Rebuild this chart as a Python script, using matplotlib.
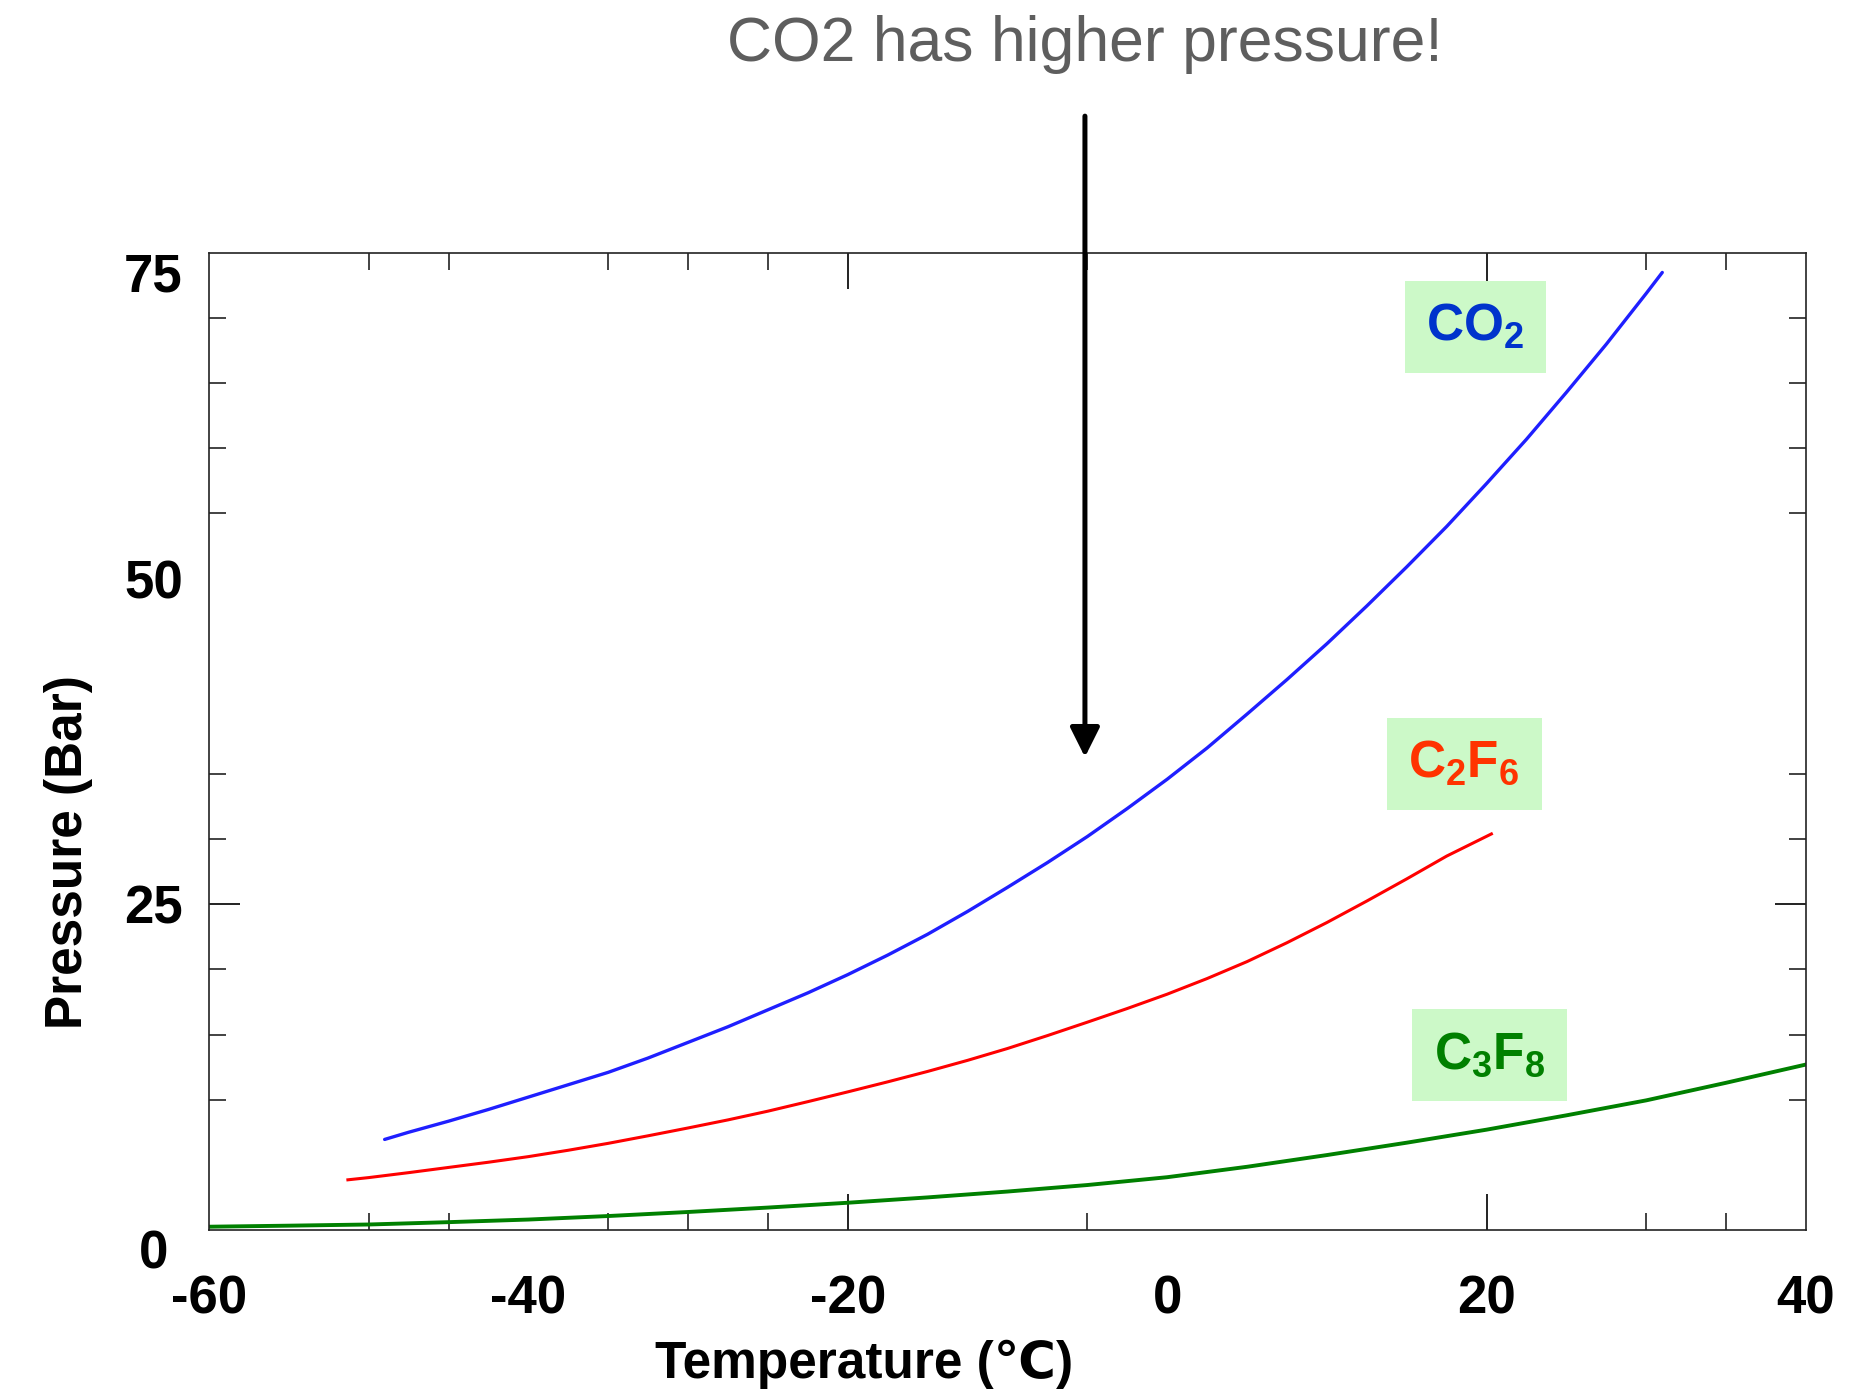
import matplotlib
matplotlib.use("Agg")
import matplotlib.pyplot as plt
from matplotlib.ticker import FixedLocator

# ---- data ----
co2_T = [-49, -47.5, -45, -42.5, -40, -37.5, -35, -32.5, -30, -27.5, -25, -22.5, -20, -17.5,
         -15, -12.5, -10, -7.5, -5, -2.5, 0, 2.5, 5, 7.5, 10, 12.5, 15, 17.5, 20, 22.5, 25,
         27.5, 30, 31]
co2_P = [6.95, 7.5, 8.35, 9.25, 10.2, 11.15, 12.1, 13.2, 14.4, 15.6, 16.9, 18.2, 19.6, 21.1,
         22.7, 24.45, 26.3, 28.2, 30.2, 32.35, 34.6, 37.0, 39.6, 42.25, 45.0, 47.9, 50.9, 54.0,
         57.3, 60.7, 64.3, 68.0, 71.9, 73.5]

c2f6_T = [-51.3, -50, -47.5, -45, -42.5, -40, -37.5, -35, -32.5, -30, -27.5, -25, -22.5, -20,
          -17.5, -15, -12.5, -10, -7.5, -5, -2.5, 0, 2.5, 5, 7.5, 10, 12.5, 15, 17.5, 20.3]
c2f6_P = [3.85, 4.02, 4.4, 4.8, 5.2, 5.63, 6.12, 6.65, 7.23, 7.83, 8.45, 9.12, 9.85, 10.6,
          11.37, 12.17, 13.02, 13.93, 14.92, 15.95, 17.0, 18.1, 19.3, 20.6, 22.05, 23.6, 25.25,
          26.95, 28.7, 30.4]

c3f8_T = [-60, -55, -50, -45, -40, -35, -30, -25, -20, -15, -10, -5, 0, 5, 10, 15, 20, 25,
          30, 35, 40]
c3f8_P = [0.25, 0.33, 0.42, 0.6, 0.8, 1.07, 1.38, 1.72, 2.09, 2.5, 2.95, 3.45, 4.05, 4.85,
          5.75, 6.7, 7.7, 8.8, 9.95, 11.3, 12.7]

x_ticks = [-60, -40, -20, 0, 20, 40]
y_ticks = [0, 25, 50, 75]
x_minor = [-50, -45, -35, -30, -25, -5, 30, 35]
x_long = [-20, 20]
y_minor = [10, 15, 20, 30, 35, 55, 60, 65, 70]
y_long = [25]

title = "CO2 has higher pressure!"
xlabel = "Temperature (\u2103)"
ylabel = "Pressure (Bar)"

FAM = ["Liberation Sans", "DejaVu Sans"]
plt.rcParams["font.family"] = FAM
plt.rcParams["mathtext.fontset"] = "custom"
plt.rcParams["mathtext.bf"] = "Liberation Sans:bold"
plt.rcParams["mathtext.rm"] = "Liberation Sans"

fig = plt.figure(figsize=(18.69, 13.95), dpi=100)
ax = fig.add_axes([0.1118, 0.1183, 0.8545, 0.7004])
ax.set_xlim(-60, 40)
ax.set_ylim(0, 75)

ax.plot(co2_T, co2_P, color="#1f1fff", lw=2.4, solid_capstyle="round")
ax.plot(c2f6_T, c2f6_P, color="#ff0000", lw=2.2)
ax.plot(c3f8_T, c3f8_P, color="#008000", lw=2.8)

for s in ax.spines.values():
    s.set_linewidth(1.2)
    s.set_color("#222222")

# labels (major, no mark)
ax.set_xticks(x_ticks)
ax.set_yticks(y_ticks)
ax.set_xticklabels([str(v) for v in x_ticks])
ax.set_yticklabels([str(v) for v in y_ticks])
ax.tick_params(axis="x", which="major", length=0, pad=32, labelsize=38)
ax.tick_params(axis="y", which="major", length=0, pad=40, labelsize=38)
for lab in ax.get_xticklabels() + ax.get_yticklabels():
    lab.set_fontweight("bold")
for lab in ax.get_yticklabels():
    lab.set_horizontalalignment("center")
yt = ax.yaxis.get_major_ticks()
yt[0].label1.set_verticalalignment("top")
yt[-1].label1.set_verticalalignment("top")

# short tick marks
ax.xaxis.set_minor_locator(FixedLocator(x_minor))
ax.yaxis.set_minor_locator(FixedLocator(y_minor))
ax.tick_params(which="minor", direction="in", length=12, width=1.2, color="#222222",
               top=True, bottom=True, left=True, right=True)

# long tick marks via secondary axes
for loc in ("bottom", "top"):
    sec = ax.secondary_xaxis(loc)
    sec.set_xticks(x_long)
    sec.set_xticklabels([])
    sec.tick_params(direction="in", length=26, width=1.4, color="#222222")
    sec.spines[loc].set_visible(False)
for loc in ("left", "right"):
    sec = ax.secondary_yaxis(loc)
    sec.set_yticks(y_long)
    sec.set_yticklabels([])
    sec.tick_params(direction="in", length=22, width=1.4, color="#222222")
    sec.spines[loc].set_visible(False)

ax.set_xlabel(xlabel, fontsize=37, fontweight="bold", family=FAM)
ax.xaxis.set_label_coords(0.41, -0.138)
ax.xaxis.label.set_verticalalignment("center")
ax.set_ylabel(ylabel, fontsize=37, fontweight="bold", family=FAM)
ax.yaxis.set_label_coords(-0.088, 0.387)
ax.yaxis.label.set_verticalalignment("center")

# species labels
box = dict(boxstyle="square,pad=0.42", fc="#ccf9c8", ec="none")
ax.text(19.3, 69.3, r"$\mathbf{CO_2}$", color="#0033cc", fontsize=37, ha="center", va="center", bbox=box)
ax.text(18.6, 35.8, r"$\mathbf{C_2F_6}$", color="#ff3300", fontsize=37, ha="center", va="center", bbox=box)
ax.text(20.2, 13.4, r"$\mathbf{C_3F_8}$", color="#008000", fontsize=37, ha="center", va="center", bbox=box)

# annotation
fig.text(0.5805, 0.968, title, ha="center", va="center", fontsize=45, color="#5e5e5e", family=FAM)
ax.annotate("", xy=(-5.15, 36.3), xytext=(-5.15, 85.5),
            arrowprops=dict(arrowstyle="-|>,head_length=0.6,head_width=0.3", color="black",
                            lw=3.6, mutation_scale=30, shrinkA=0, shrinkB=0),
            annotation_clip=False)

fig.savefig("out.png", dpi=100)
